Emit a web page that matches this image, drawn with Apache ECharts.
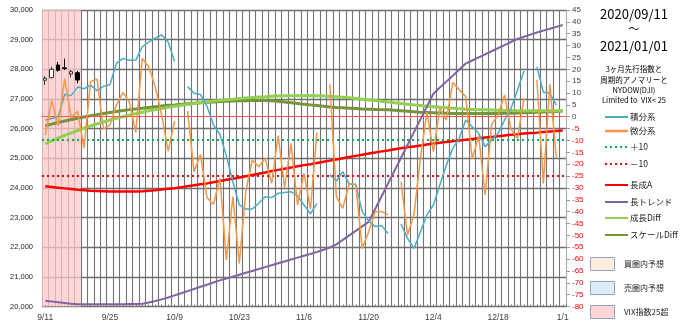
<!DOCTYPE html>
<html>
<head>
<meta charset="utf-8">
<script src="https://cdn.jsdelivr.net/npm/echarts@6/dist/echarts.min.js"></script>
<style>
  html, body { margin: 0; padding: 0; background: #fff; }
  #chart { width: 680px; height: 329px; }
</style>
</head>
<body>
<div id="chart"></div>
<script>
// Trading days (weekdays) from 2020/09/11 to 2021/01/01
const categories = [
  '9/11','9/14','9/15','9/16','9/17','9/18','9/21','9/22','9/23','9/24','9/25',
  '9/28','9/29','9/30','10/1','10/2','10/5','10/6','10/7','10/8','10/9',
  '10/12','10/13','10/14','10/15','10/16','10/19','10/20','10/21','10/22','10/23',
  '10/26','10/27','10/28','10/29','10/30','11/2','11/3','11/4','11/5','11/6',
  '11/9','11/10','11/11','11/12','11/13','11/16','11/17','11/18','11/19','11/20',
  '11/23','11/24','11/25','11/26','11/27','11/30','12/1','12/2','12/3','12/4',
  '12/7','12/8','12/9','12/10','12/11','12/14','12/15','12/16','12/17','12/18',
  '12/21','12/22','12/23','12/24','12/25','12/28','12/29','12/30','12/31','1/1'
];

// NYDOW candles [open, close, low, high] on days with VIX > 25
const dowCandles = [
  [27630, 27697, 27472, 27775],
  [27718, 28000, 27697, 28089],
  [28146, 27967, 27920, 28247],
  [28050, 28030, 27977, 28358],
  [27842, 27920, 27731, 27977],
  [27887, 27640, 27529, 27943]
];
// VIX > 25 span, in category slots [start, end)
const vixSpan = [0, 6];

const sekibun = [
  -1.4, -0.7, 0.0, 9.4, 8.9, 12.5, 11.8, 13.3, 11.0, 12.8, 13.5,
  22.5, 24.6, 23.8, 23.9, 29.5, 31.5, 33.1, 34.5, 31.5, 23.3,
  null, 12.7, 9.9, 9.4, 4.5, -3.5, -7.5, -16.5, -27.4, -37.2,
  -38.9, -38.9, -36.5, -33.7, -34.1, -32.3, -31.9, -31.6, -33.3, -37.2,
  -40.9, -36.5, null, -24.5, -27.1, -23.2, -28.5, -28.5, -40.0, -44.0,
  -46.3, -45.9, -49.2, null, -45.2, -51.3, -55.5, -48.5, -41.4, -37.2,
  -28.8, -20.4, -13.3, -9.1, -1.4, -4.2, -7.0, -12.6, -9.8, -7.0,
  -1.4, 3.5, 11.3, 19.3, null, 21.1, 10.3, 9.9, 4.9, null
];

const bibun = [
  -7.7, 6.8, -3.8, 16.0, -0.3, 2.3, -13.3, 14.8, 15.9, -5.2, -3.5,
  4.9, 10.3, 6.3, -6.6, 24.6, 21.1, 12.7, 0.7, -14.5, -1.8,
  null, 2.4, -23.2, -15.9, -34.1, -36.9, -26.0, -60.4, -33.7, -61.8,
  -31.6, -18.2, -21.1, -17.5, -28.1, -8.0, -29.9, -11.2, -37.2, -23.9,
  -38.9, -6.6, null, 13.7, -33.7, -38.6, -28.1, -28.8, -55.5, -48.5,
  -40.0, -40.0, -41.4, null, -27.4, -49.9, -41.2, -17.5, 2.1, -14.7,
  3.5, -1.4, 14.5, 11.3, 8.5, -17.8, -8.0, -33.0, -3.2, 0.7,
  9.2, -5.2, -9.1, 7.8, null, 15.5, -28.1, 13.7, -17.3, null
];

const chouseiA = [
  -29.3, -29.6, -29.9, -30.2, -30.5, -30.8, -31.0, -31.2, -31.3, -31.4, -31.5,
  -31.5, -31.5, -31.5, -31.5, -31.4, -31.2, -31.0, -30.7, -30.4, -30.1,
  -29.7, -29.3, -28.9, -28.5, -28.1, -27.6, -27.1, -26.6, -26.1, -25.6,
  -25.1, -24.6, -24.0, -23.5, -22.9, -22.4, -21.9, -21.4, -20.9, -20.4,
  -20.0, -19.5, -19.0, -18.5, -18.0, -17.5, -17.0, -16.5, -16.0, -15.5,
  -15.1, -14.6, -14.2, -13.7, -13.3, -12.9, -12.5, -12.1, -11.7, -11.3,
  -11.0, -10.6, -10.3, -10.0, -9.7, -9.4, -9.1, -8.8, -8.5, -8.2,
  -7.9, -7.6, -7.4, -7.1, -6.9, -6.7, -6.4, -6.2, -6.0, -5.8
];

const longTrend = [
  -77.6, -77.9, -78.2, -78.5, -78.8, -79.0, -79.0, -79.0, -79.0, -79.0, -79.0,
  -79.0, -79.0, -78.9, -78.9, -78.8, -78.3, -77.7, -77.0, -76.2, -75.3,
  -74.4, -73.5, -72.6, -71.7, -70.8, -69.9, -69.0, -68.2, -67.4, -66.6,
  -65.8, -65.0, -64.2, -63.4, -62.6, -61.8, -61.0, -60.2, -59.4, -58.6,
  -57.8, -57.0, -56.1, -55.1, -53.8, -51.9, -50.0, -48.1, -46.2, -44.3,
  -38.9, -33.5, -28.1, -22.7, -17.3, -11.9, -6.5, -1.1, 4.3, 9.7,
  12.3, 14.8, 17.3, 19.9, 22.4, 23.7, 25.0, 26.3, 27.6, 28.9,
  30.2, 31.5, 32.8, 33.7, 34.6, 35.5, 36.3, 37.1, 37.9, 38.7
];

const growthDiff = [
  -11.5, -10.2, -9.0, -7.9, -6.8, -5.8, -4.8, -3.9, -3.0, -2.2, -1.4,
  -0.7, 0.0, 0.7, 1.3, 1.9, 2.5, 3.0, 3.5, 4.0, 4.4,
  4.8, 5.2, 5.6, 5.9, 6.3, 6.6, 6.9, 7.2, 7.4, 7.7,
  7.9, 8.1, 8.3, 8.4, 8.6, 8.7, 8.8, 8.9, 8.9, 8.9,
  8.9, 8.8, 8.7, 8.6, 8.4, 8.2, 8.0, 7.7, 7.4, 7.1,
  6.8, 6.5, 6.2, 5.9, 5.6, 5.3, 5.0, 4.7, 4.4, 4.2,
  4.0, 3.8, 3.6, 3.4, 3.2, 3.1, 3.0, 2.9, 2.8, 2.7,
  2.6, 2.6, 2.5, 2.5, 2.5, 2.5, 2.5, 2.5, 2.5, 2.5
];

const scaleDiff = [
  -3.8, -3.1, -2.4, -1.8, -1.2, -0.6, -0.1, 0.4, 0.9, 1.4, 1.8,
  2.2, 2.6, 3.0, 3.3, 3.6, 3.9, 4.2, 4.5, 4.8, 5.0,
  5.3, 5.5, 5.7, 5.9, 6.1, 6.2, 6.4, 6.5, 6.6, 6.7,
  6.7, 6.8, 6.8, 6.8, 6.7, 6.5, 6.2, 5.9, 5.6, 5.3,
  5.0, 4.7, 4.4, 4.1, 3.9, 3.75, 3.6, 3.45, 3.3, 3.2,
  3.1, 3.0, 2.9, 2.7, 2.5, 2.3, 2.1, 1.9, 1.8, 1.7,
  1.6, 1.5, 1.4, 1.4, 1.4, 1.4, 1.4, 1.4, 1.4, 1.4,
  1.5, 1.5, 1.6, 1.7, 1.8, 1.9, 2.0, 2.1, 2.2, 2.4
];

// Horizontal reference levels on the right-hand scale
const zeroLevel = 0;
const plusLevel = -9.5;
const minusLevel = -25;

const leftTicks = { min: 20000, max: 30000, step: 1000 };
const rightTicks = { min: -80, max: 45, step: 5 };

const C = {
  blue: '#4BACC6', orange: '#F79646', green: '#00B050', red: '#FF0000',
  purple: '#8064A2', lime: '#92D050', olive: '#77933C', grid: '#747474'
};
const NUM_FONT = 'Liberation Sans, Arial, sans-serif';
const JP_FONT = 'Noto Sans CJK JP, sans-serif';

const chart = echarts.init(document.getElementById('chart'), null, { renderer: 'canvas' });

function lineSeries(name, data, color, width, z) {
  return {
    name, type: 'line', data, xAxisIndex: 0, yAxisIndex: 1,
    showSymbol: false, symbol: 'none', connectNulls: false,
    lineStyle: { color, width }, z: z, silent: true, animation: false
  };
}

// Legend block drawn beside the plot
const legendLines = [
  { label: '積分系', color: C.blue, width: 2, dash: null, y: 117 },
  { label: '微分系', color: C.orange, width: 2.5, dash: null, y: 131 },
  { label: '＋10', color: C.green, width: 2, dash: [2, 3], y: 147 },
  { label: '－10', color: C.red, width: 2, dash: [2, 3], y: 164 },
  { label: '長成A', color: C.red, width: 2, dash: null, y: 185 },
  { label: '長トレンド', color: C.purple, width: 2, dash: null, y: 202 },
  { label: '成長Diff', color: C.lime, width: 2, dash: null, y: 218 },
  { label: 'スケールDiff', color: C.olive, width: 2, dash: null, y: 235 }
];
const legendBoxes = [
  { label: '買圏内予想', fill: '#FDEBDD', y: 264 },
  { label: '売圏内予想', fill: '#DDEBF7', y: 288 },
  { label: 'VIX指数25超', fill: '#FFD5D5', y: 312 }
];

const graphics = [];
const headTexts = [
  { text: '2020/09/11', y: 14, size: 13 },
  { text: '～', y: 29, size: 11 },
  { text: '2021/01/01', y: 46, size: 13 },
  { text: '3ヶ月先行指数と', y: 69, size: 7.5 },
  { text: '周期的アノマリーと', y: 80, size: 7.5 },
  { text: 'NYDOW(DJI)', y: 90, size: 7.5 },
  { text: 'Limited to  VIX< 25', y: 100, size: 7.5 }
];
headTexts.forEach(t => graphics.push({
  type: 'text', x: 634, y: t.y,
  style: { text: t.text, fill: '#000', font: t.size + 'px ' + JP_FONT, textAlign: 'center', textVerticalAlign: 'middle' }
}));
legendLines.forEach(l => {
  graphics.push({
    type: 'line', shape: { x1: 605, y1: l.y, x2: 628, y2: l.y },
    style: { stroke: l.color, lineWidth: l.width, lineDash: l.dash }
  });
  graphics.push({
    type: 'text', x: 630, y: l.y,
    style: { text: l.label, fill: '#222', font: '8.5px ' + JP_FONT, textVerticalAlign: 'middle' }
  });
});
legendBoxes.forEach(b => {
  graphics.push({
    type: 'rect', shape: { x: 590.5, y: b.y - 6.5, width: 24, height: 13 },
    style: { fill: b.fill, stroke: '#8EA4C2', lineWidth: 1 }
  });
  graphics.push({
    type: 'text', x: 624, y: b.y,
    style: { text: b.label, fill: '#222', font: '8px ' + JP_FONT, textVerticalAlign: 'middle' }
  });
});

const option = {
  animation: false,
  backgroundColor: '#fff',
  grid: { left: 42, right: 114, top: 10, bottom: 22.5, containLabel: false },
  xAxis: [
    {
      type: 'category', data: categories, boundaryGap: true,
      axisLine: { show: true, lineStyle: { color: C.grid, width: 1 } },
      axisTick: { show: false },
      axisLabel: { interval: 9, color: '#404040', fontSize: 8.5, fontFamily: NUM_FONT, margin: 7 },
      splitLine: { show: true, interval: 0, lineStyle: { color: C.grid, width: 1.1 } }
    },
    {
      type: 'value', min: 0, max: categories.length, interval: 1, position: 'bottom',
      axisLine: { show: false }, axisLabel: { show: false }, splitLine: { show: false },
      axisTick: { show: true, inside: true, length: 3, lineStyle: { color: C.grid } },
      minorTick: { show: true, splitNumber: 2, length: 2, lineStyle: { color: C.grid } }
    }
  ],
  yAxis: [
    {
      type: 'value', min: leftTicks.min, max: leftTicks.max, interval: leftTicks.step,
      axisLine: { show: false }, axisTick: { show: false },
      axisLabel: {
        color: '#222', fontSize: 7.5, fontFamily: NUM_FONT, margin: 9,
        formatter: v => v.toLocaleString('en-US')
      },
      splitLine: { show: true, lineStyle: { color: '#6e6e6e', width: 1.3 } }
    },
    {
      type: 'value', min: rightTicks.min, max: rightTicks.max, interval: rightTicks.step,
      position: 'right',
      axisLine: { show: true, lineStyle: { color: '#b0b0b0' } },
      axisTick: { show: true, length: 4, lineStyle: { color: '#9a9a9a' } },
      axisLabel: {
        fontSize: 8, fontFamily: NUM_FONT, margin: 6,
        color: v => (Number(v) < 0 ? '#FF0000' : '#404040')
      },
      splitLine: { show: false }
    }
  ],
  graphic: graphics,
  series: [
    {
      name: 'VIX指数25超', type: 'line', xAxisIndex: 1, yAxisIndex: 0, data: [],
      markArea: {
        silent: true, itemStyle: { color: 'rgba(255,200,200,0.75)' },
        data: [[{ xAxis: vixSpan[0] }, { xAxis: vixSpan[1] }]]
      },
      z: 1
    },
    {
      name: 'NYDOW', type: 'candlestick', xAxisIndex: 0, yAxisIndex: 0,
      data: dowCandles, barWidth: 4, z: 3,
      itemStyle: { color: '#ffffff', color0: '#000000', borderColor: '#333333', borderColor0: '#000000', borderWidth: 1 }
    },
    {
      name: 'levels', type: 'line', xAxisIndex: 0, yAxisIndex: 1, data: [], z: 2,
      markLine: {
        silent: true, symbol: 'none', label: { show: false },
        data: [
          { yAxis: zeroLevel, lineStyle: { color: '#FF5050', width: 1, type: 'solid' } },
          { yAxis: plusLevel, lineStyle: { color: C.green, width: 2, type: [2, 3] } },
          { yAxis: minusLevel, lineStyle: { color: C.red, width: 2, type: [2, 3] } }
        ]
      }
    },
    lineSeries('スケールDiff', scaleDiff, C.olive, 3, 4),
    lineSeries('成長Diff', growthDiff, C.lime, 3, 4),
    lineSeries('長成A', chouseiA, C.red, 2.5, 5),
    lineSeries('長トレンド', longTrend, C.purple, 2, 5),
    lineSeries('積分系', sekibun, C.blue, 1.5, 6),
    lineSeries('微分系', bibun, C.orange, 1.5, 7)
  ]
};

chart.setOption(option);
</script>
</body>
</html>
